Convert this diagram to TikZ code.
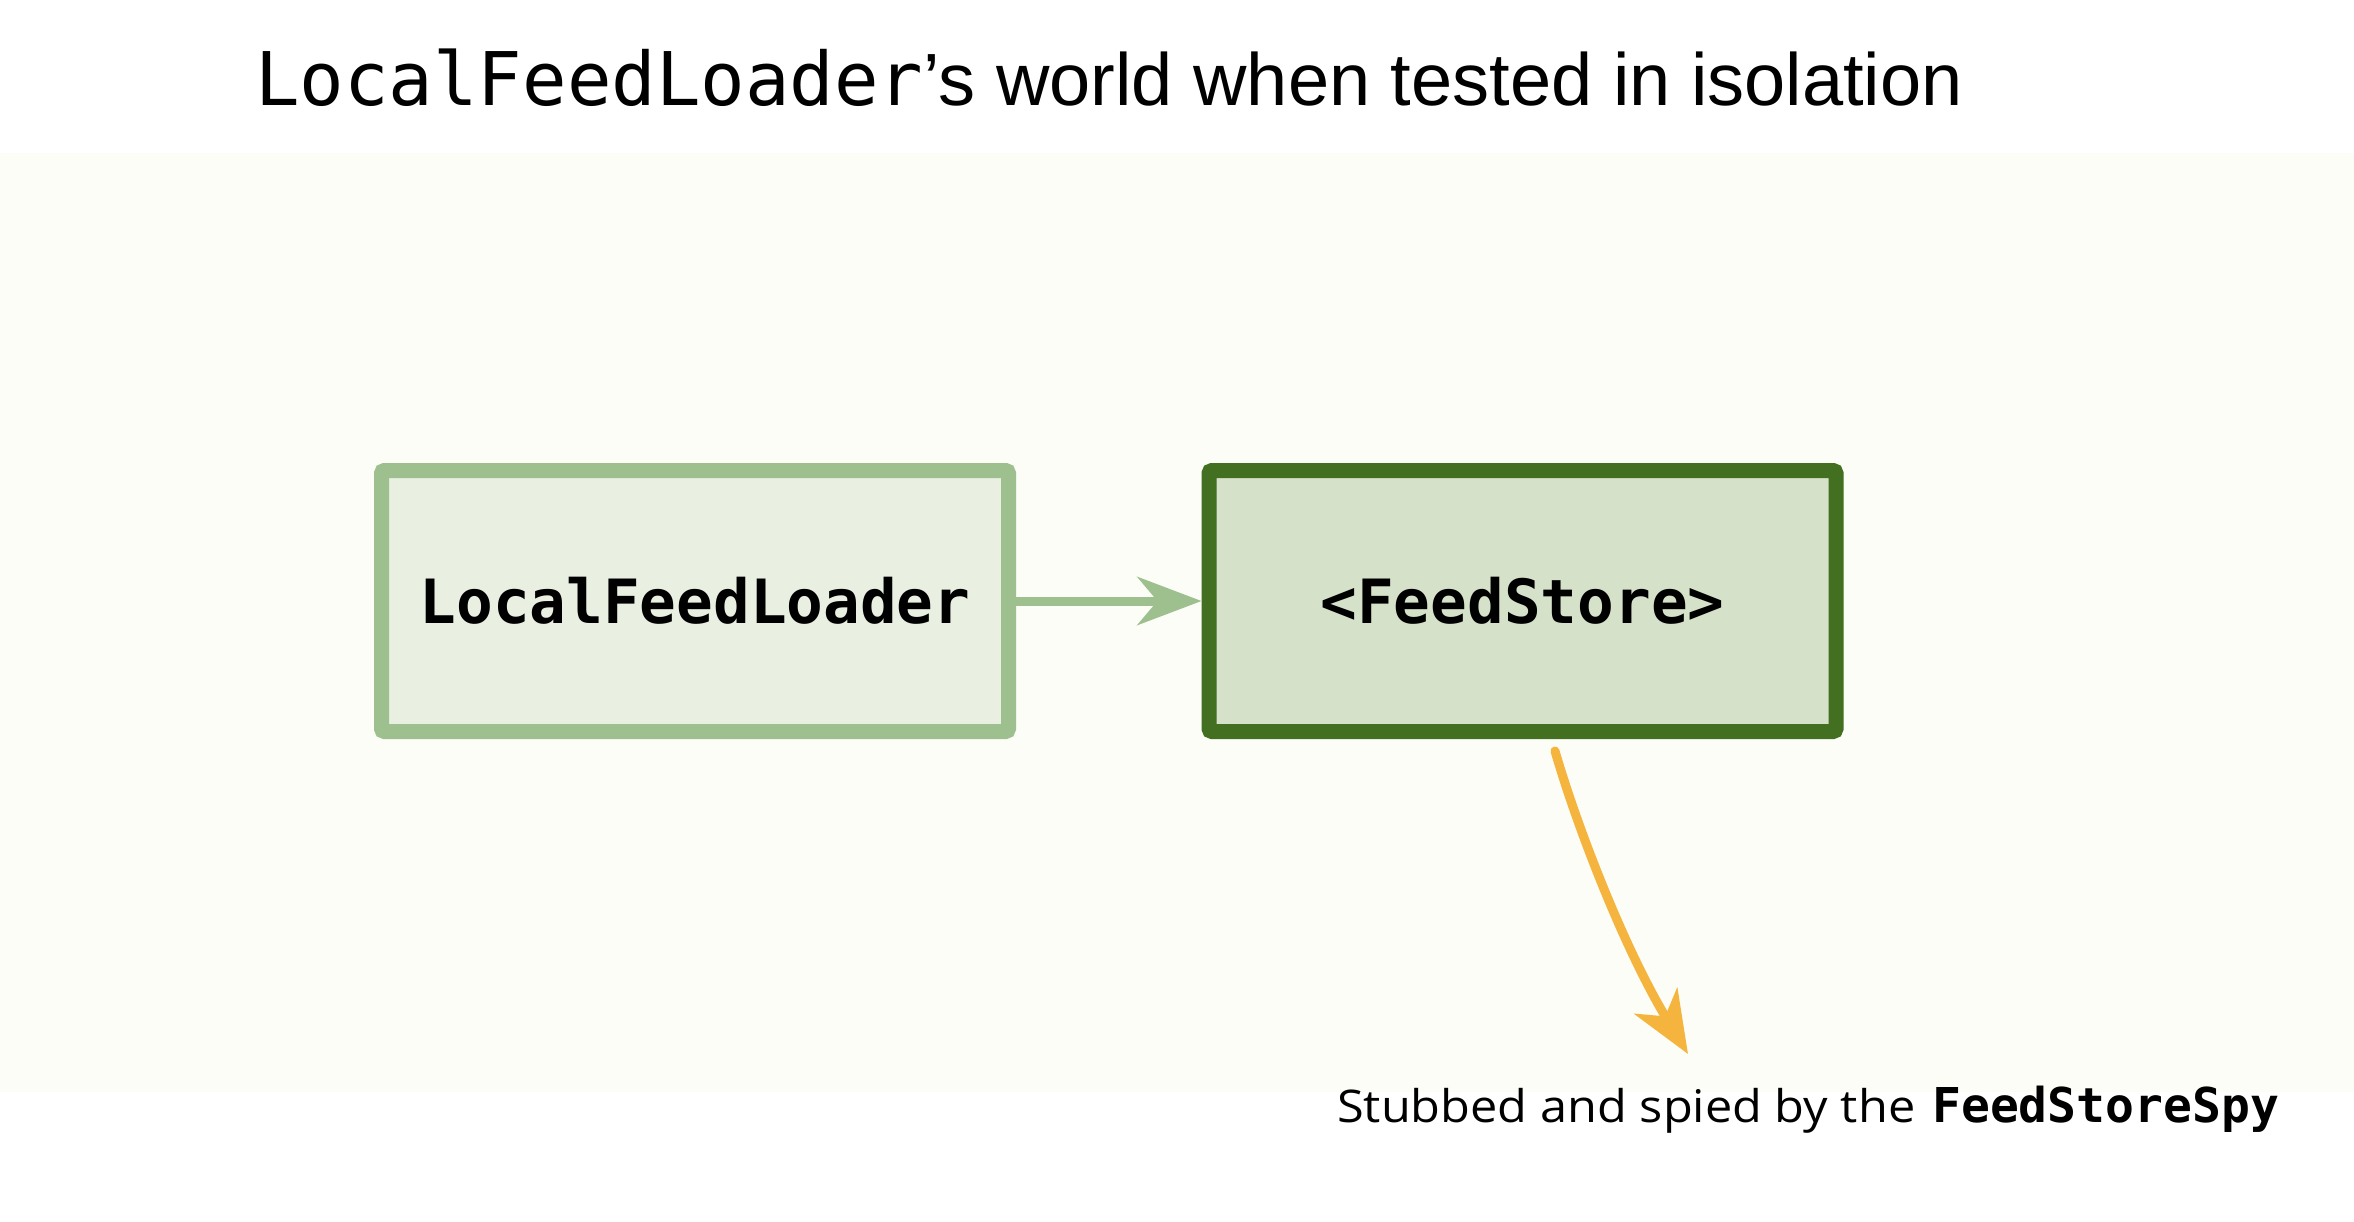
\documentclass[tikz,border=0pt]{standalone}
\usepackage{fontspec}
\usepackage{graphicx}
\setmainfont{Liberation Sans}
\newfontfamily\monofont{DejaVu Sans Mono}
\newfontfamily\capfont{Open Sans}
\usetikzlibrary{arrows.meta}
\definecolor{panelbg}{HTML}{FBFDF6}
\definecolor{lightfill}{HTML}{E9F0E2}
\definecolor{lightedge}{HTML}{9EBF8E}
\definecolor{darkfill}{HTML}{D5E1C8}
\definecolor{darkedge}{HTML}{436F21}
\definecolor{spyorange}{HTML}{F5B43E}
\tikzset{
  boxbase/.style={rectangle, line width=15pt, rounded corners=3pt, minimum width=627pt, minimum height=261pt, inner sep=0pt,
    font=\monofont\bfseries\fontsize{61}{70}\selectfont},
  lightbox/.style={boxbase, draw=lightedge, fill=lightfill},
  darkbox/.style={boxbase, draw=darkedge, fill=darkfill},
  linkarrow/.style={draw=lightedge, line width=9pt, -{Stealth[length=64pt, width=48pt, inset=20pt]}},
  spyarrow/.style={draw=spyorange, line width=9pt, line cap=round, -{Stealth[length=62pt, width=50pt, inset=18pt]}}
}
\begin{document}
\begin{tikzpicture}[x=1pt, y=-1pt]
\useasboundingbox[fill=white] (0,0) rectangle (2354,1222);
\fill[panelbg] (0,153) rectangle (2354,1092);
\node[anchor=base west, inner sep=0pt, font=\fontsize{74}{85}\selectfont] (title) at (255,106)
  {{\monofont LocalFeedLoader}’s world when tested in isolation};
\node[lightbox] (loader) at (695,601) {LocalFeedLoader};
\node[darkbox] (store) at (1522.5,601) {<FeedStore>};
\draw[linkarrow] (loader.east) -- (store.west);
\coordinate (spystart) at (1555,751);
\node[anchor=base west, inner sep=0pt] (caption) at (1337,1122)
  {\resizebox{578pt}{\height}{\capfont\fontsize{45}{52}\selectfont Stubbed and spied by the}\hspace{17pt}{\monofont\bfseries\fontsize{48}{56}\selectfont FeedStoreSpy}};
\coordinate (spyend) at (1688,1054);
\draw[spyarrow] (spystart) .. controls (1578,830) and (1625,950) .. (spyend);
\end{tikzpicture}
\end{document}
